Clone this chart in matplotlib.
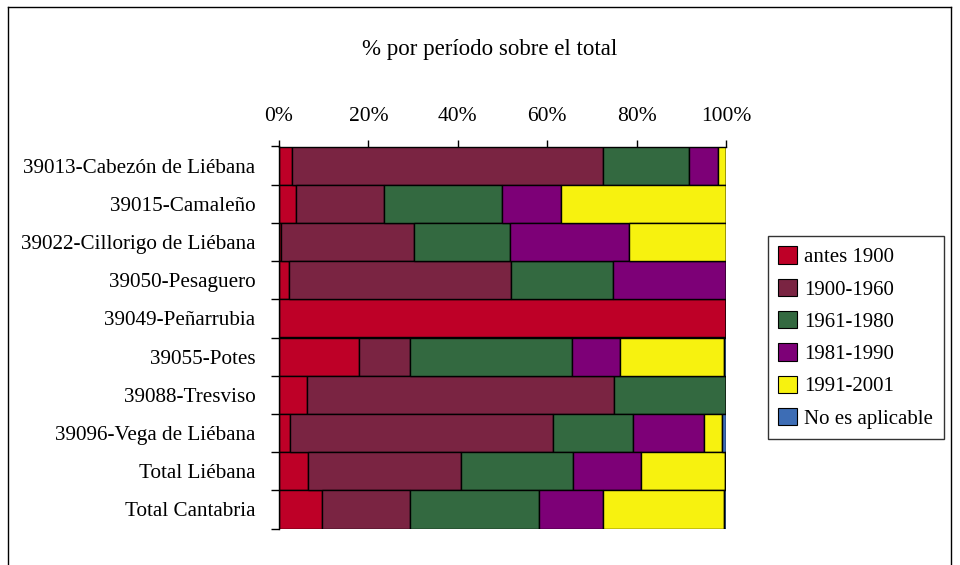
import numpy as np
import matplotlib
matplotlib.use('Agg')
import matplotlib.pyplot as plt
from matplotlib.patches import Patch
from matplotlib.lines import Line2D

plt.rcParams['font.family'] = ['Liberation Serif', 'DejaVu Serif']

# data (percent of buildings by construction period)
municipios = ['39013-Cabezón de Liébana', '39015-Camaleño', '39022-Cillorigo de Liébana',
              '39050-Pesaguero', '39049-Peñarrubia', '39055-Potes', '39088-Tresviso',
              '39096-Vega de Liébana', 'Total Liébana', 'Total Cantabria']
periodos = ['antes 1900', '1900-1960', '1961-1980', '1981-1990', '1991-2001', 'No es aplicable']

antes_1900 = [3.0, 3.9, 0.4, 2.3, 100.0, 17.8, 6.3, 2.5, 6.4, 9.6]
p1900_1960 = [69.4, 19.6, 29.9, 49.5, 0.0, 11.6, 68.7, 58.7, 34.3, 19.6]
p1961_1980 = [19.4, 26.3, 21.3, 22.9, 0.0, 36.1, 25.0, 18.1, 25.1, 28.9]
p1981_1990 = [6.4, 13.2, 26.7, 25.3, 0.0, 10.7, 0.0, 15.8, 15.1, 14.3]
p1991_2001 = [1.8, 37.0, 21.7, 0.0, 0.0, 23.4, 0.0, 4.0, 18.9, 27.2]
no_aplica = [0.0, 0.0, 0.0, 0.0, 0.0, 0.4, 0.0, 0.9, 0.2, 0.4]

colores = ['#BE0027', '#7A2442', '#336940', '#7D0077', '#F7F20F', '#3D6DB5']

series = [antes_1900, p1900_1960, p1961_1980, p1981_1990, p1991_2001, no_aplica]

fig = plt.figure(figsize=(9.6, 5.65), dpi=100)
ax = fig.add_axes([279/960, 1 - 528.5/565, 447/960, 382/565])

y = np.arange(len(municipios))
left = np.zeros(len(municipios))
for vals, col in zip(series, colores):
    vals = np.array(vals)
    ax.barh(y, vals, left=left, height=1.0, color=col, edgecolor='black', linewidth=1.0)
    left += vals

ax.set_xlim(0, 100)
ax.set_ylim(len(municipios) - 0.5, -0.5)

# x axis on top
ax.xaxis.tick_top()
ax.set_xticks(np.arange(0, 101, 20))
ax.set_xticklabels(['%d%%' % v for v in range(0, 101, 20)])
ax.tick_params(axis='x', direction='out', length=5, width=1, pad=10, labelsize=15.5)

# y labels centered, ticks between rows
ax.set_yticks(y)
ax.set_yticklabels(municipios)
ax.set_yticks(np.arange(-0.5, len(municipios)), minor=True)
ax.tick_params(axis='y', which='major', length=0, pad=17, labelsize=15.2)
ax.tick_params(axis='y', which='minor', direction='out', length=6, width=1)

for s in ['right', 'bottom']:
    ax.spines[s].set_visible(False)
ax.spines['top'].set_linewidth(1.0)
ax.spines['left'].set_linewidth(1.0)

fig.text(490/960, 1 - 49/565, '% por período sobre el total', ha='center', va='center',
         fontsize=16.5)

handles = [Patch(facecolor=c, edgecolor='black', linewidth=0.8) for c in colores]
leg = fig.legend(handles, periodos, loc='upper left', bbox_to_anchor=(768/960, 1 - 236/565),
                 borderaxespad=0, fontsize=15, frameon=True, fancybox=False,
                 handlelength=0.9, handleheight=0.9, handletextpad=0.35,
                 labelspacing=0.55, borderpad=0.5)
leg.get_frame().set_edgecolor('black')
leg.get_frame().set_linewidth(1.0)

# outer frame
fig.add_artist(Line2D([8/960, 8/960], [0, 1 - 7/565], color='black', lw=1.0))
fig.add_artist(Line2D([8/960, 951/960], [1 - 7/565, 1 - 7/565], color='black', lw=1.0))
fig.add_artist(Line2D([951/960, 951/960], [0, 1 - 7/565], color='black', lw=1.0))

fig.savefig('out.png', dpi=100)
